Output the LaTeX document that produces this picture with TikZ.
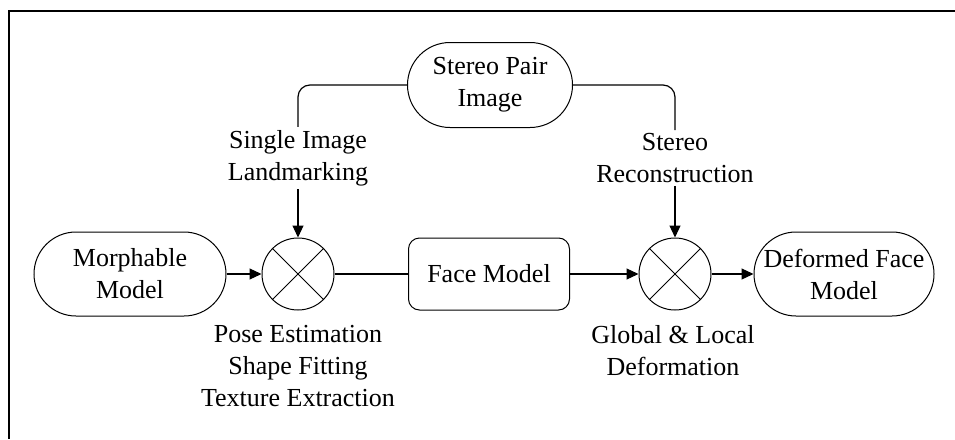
\documentclass[tikz,border=0pt]{standalone}
\usepackage{fontspec}
\setmainfont{Liberation Serif}
\usetikzlibrary{arrows.meta,shapes.misc}
\begin{document}
\begin{tikzpicture}[x=1pt,y=-1pt,
  every node/.style={font=\fontsize{26}{32}\selectfont, align=center},
  stadium/.style={draw, line width=1pt, rounded rectangle, inner sep=0pt},
  facebox/.style={draw, line width=1pt, rectangle, rounded corners=11pt, minimum width=161pt, minimum height=72pt, inner sep=0pt},
  xcircle/.style={draw, line width=1pt, circle, minimum size=72pt, inner sep=0pt,
    path picture={\draw[line width=1pt] (path picture bounding box.north west) -- (path picture bounding box.south east)
      (path picture bounding box.north east) -- (path picture bounding box.south west);}},
  lbl/.style={inner sep=3pt},
  conn/.style={line width=1.2pt},
  arr/.style={conn, -{Triangle[length=12pt,width=11pt]}}
]
\useasboundingbox (0,0) rectangle (955,439);
\draw[line width=1.3pt] (955,11) -- (9,11) -- (9,439);

\node[stadium, minimum width=165pt, minimum height=85pt] (sp) at (490,85) {Stereo Pair\\Image};
\node[stadium, minimum width=192pt, minimum height=84pt] (mm) at (130,274) {Morphable\\Model};
\node[xcircle] (c1) at (298,274) {};
\node[facebox] (fm) at (489,274) {Face Model};
\node[xcircle] (c2) at (675,274) {};
\node[stadium, minimum width=180pt, minimum height=84pt] (df) at (844,274) {Deformed Face\\Model};

\node[lbl] (sil) at (298,158) {Single Image\\Landmarking};
\node[lbl] (sr) at (675,158) {Stereo\\Reconstruction};
\node[lbl, anchor=north] (pe) at (298,322) {Pose Estimation\\Shape Fitting\\Texture Extraction};
\node[lbl, anchor=north] (gl) at (673,322) {Global \& Local\\Deformation};

\draw[conn, rounded corners=12pt] (sp.west) -| (sil.north);
\draw[conn, rounded corners=12pt] (sp.east) -| (sr.north);
\draw[arr] (sil.south) -- (c1.north);
\draw[arr] (sr.south) -- (c2.north);
\draw[arr] (mm.east) -- (c1.west);
\draw[conn] (c1.east) -- (fm.west);
\draw[arr] (fm.east) -- (c2.west);
\draw[arr] (c2.east) -- (df.west);
\end{tikzpicture}
\end{document}
